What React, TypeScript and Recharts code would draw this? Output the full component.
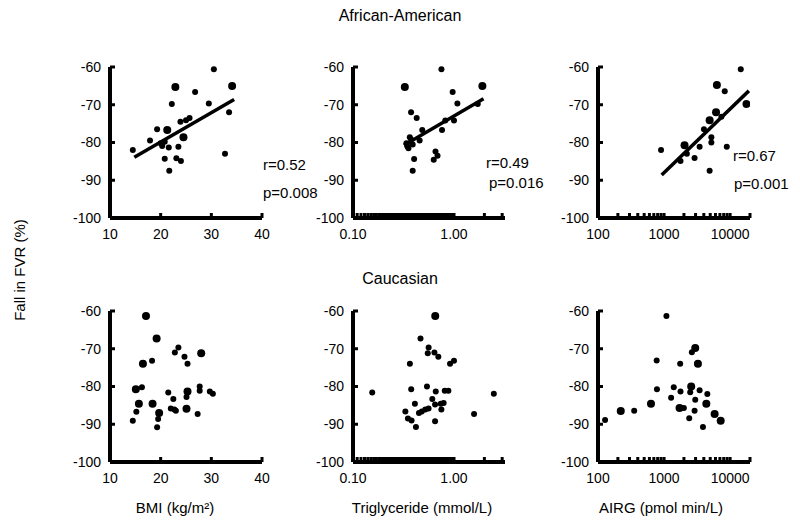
import { ScatterChart, Scatter, XAxis, YAxis, ReferenceLine } from "recharts";

type Pt = { x: number; y: number; big?: number };

const yTicks = [-100, -90, -80, -70, -60];
const bmiTicks = [10, 20, 30, 40];
const airgTicks = [100, 200, 300, 400, 500, 600, 700, 800, 900, 1000, 2000, 3000, 4000, 5000, 6000, 7000, 8000, 9000, 10000, 20000];
const airgLabels = [100, 1000, 10000];
// triglyceride axis: minor ticks every 0.01 between 0.10 and 1.00, then 2 and 3
const tgTicks = [...Array.from({ length: 91 }, (_, i) => Math.round((0.1 + i * 0.01) * 100) / 100), 2, 3];
const tgLabels: Record<number, string> = { 0.1: "0.10", 1: "1.00" };

// African-American
const aaBmi: Pt[] = [
  { x: 14.5, y: -82 }, { x: 17.9, y: -79.5 }, { x: 19.3, y: -76.5 }, { x: 20, y: -80.2 },
  { x: 20.3, y: -80.9 }, { x: 20.8, y: -79.8 }, { x: 21.3, y: -76.7, big: 1 }, { x: 21.6, y: -81.3 },
  { x: 20.8, y: -84.3 }, { x: 21.7, y: -87.5 }, { x: 22.2, y: -69.8 }, { x: 22.9, y: -65.3, big: 1 },
  { x: 23.1, y: -84.2 }, { x: 23.5, y: -81.1 }, { x: 24, y: -84.9 }, { x: 23.9, y: -74.5 },
  { x: 24.5, y: -78.6, big: 1 }, { x: 25, y: -74.1 }, { x: 25.7, y: -73.5 }, { x: 26.8, y: -66.6 },
  { x: 29.5, y: -69.7 }, { x: 30.5, y: -60.6 }, { x: 32.7, y: -83 }, { x: 33.5, y: -72 },
  { x: 34.1, y: -65, big: 1 },
];
const aaBmiFit: Pt[] = [{ x: 14.8, y: -83.9 }, { x: 34.5, y: -68.6 }];

const aaTg: Pt[] = [
  { x: 0.326, y: -65.3, big: 1 }, { x: 0.376, y: -72 }, { x: 0.427, y: -73.5 }, { x: 0.338, y: -80.2 },
  { x: 0.354, y: -81.5 }, { x: 0.365, y: -78.6 }, { x: 0.376, y: -79.2 }, { x: 0.345, y: -81 },
  { x: 0.39, y: -80.5 }, { x: 0.403, y: -84.4 }, { x: 0.39, y: -87.5 }, { x: 0.457, y: -79.5 },
  { x: 0.485, y: -76.7 }, { x: 0.656, y: -82.4 }, { x: 0.63, y: -84.6 }, { x: 0.687, y: -83.5 },
  { x: 0.751, y: -60.6 }, { x: 0.761, y: -76.7 }, { x: 0.82, y: -74.2 }, { x: 0.97, y: -66.6 },
  { x: 1.0, y: -74.2 }, { x: 1.08, y: -69.7 }, { x: 1.72, y: -69.8 }, { x: 1.91, y: -65, big: 1 },
];
const aaTgFit: Pt[] = [{ x: 0.32, y: -80.7 }, { x: 1.96, y: -68.4 }];

const aaAirg: Pt[] = [
  { x: 900, y: -82 }, { x: 1774, y: -84.9 }, { x: 2042, y: -80.7, big: 1 }, { x: 2213, y: -83 },
  { x: 2896, y: -84.1 }, { x: 3452, y: -81.1 }, { x: 4016, y: -76.5 }, { x: 4896, y: -74.1, big: 1 },
  { x: 5200, y: -78.6 }, { x: 5200, y: -80 }, { x: 4896, y: -87.5 }, { x: 6124, y: -72, big: 1 },
  { x: 6310, y: -64.8, big: 1 }, { x: 7380, y: -73.2 }, { x: 8290, y: -66.4 }, { x: 8900, y: -81.1 },
  { x: 14500, y: -60.6 }, { x: 17700, y: -69.8, big: 1 },
];
const aaAirgFit: Pt[] = [{ x: 920, y: -88.6 }, { x: 19230, y: -66.3 }];

// Caucasian
const caBmi: Pt[] = [
  { x: 17.1, y: -61.3, big: 1 }, { x: 19.2, y: -67.3, big: 1 }, { x: 16.5, y: -74, big: 1 }, { x: 18.3, y: -73.2 },
  { x: 23.5, y: -69.7 }, { x: 22.8, y: -71 }, { x: 24.7, y: -72.1 }, { x: 25.3, y: -74 },
  { x: 28, y: -71.2, big: 1 }, { x: 15.1, y: -80.7, big: 1 }, { x: 16.3, y: -80.2 }, { x: 15.7, y: -84.6, big: 1 },
  { x: 15.2, y: -86.7 }, { x: 14.5, y: -89.1 }, { x: 18.4, y: -84.6, big: 1 }, { x: 19.7, y: -87, big: 1 },
  { x: 19.5, y: -88.6 }, { x: 19.3, y: -90.8 }, { x: 21.5, y: -81.6 }, { x: 22.5, y: -83.3 },
  { x: 22, y: -85.8 }, { x: 22.7, y: -86.1 }, { x: 23, y: -86.4 }, { x: 25.1, y: -82.8 },
  { x: 25.3, y: -81.3, big: 1 }, { x: 25.1, y: -85.9, big: 1 }, { x: 27.3, y: -87.3 }, { x: 27.7, y: -80 },
  { x: 27.7, y: -81.1 }, { x: 29.7, y: -81.3 }, { x: 30.3, y: -81.9 },
];

const caTg: Pt[] = [
  { x: 0.155, y: -81.6 }, { x: 0.652, y: -61.3, big: 1 }, { x: 0.466, y: -67.3 }, { x: 0.561, y: -69.7 },
  { x: 0.55, y: -71.2 }, { x: 0.64, y: -71 }, { x: 0.7, y: -72.1 }, { x: 0.366, y: -74 },
  { x: 0.914, y: -74 }, { x: 1.0, y: -73.2 }, { x: 0.377, y: -80.7 }, { x: 0.54, y: -80 },
  { x: 0.66, y: -81.3 }, { x: 0.81, y: -81.1 }, { x: 0.88, y: -81.1 }, { x: 0.33, y: -86.6 },
  { x: 0.35, y: -88.5 }, { x: 0.38, y: -89 }, { x: 0.41, y: -84.6 }, { x: 0.42, y: -90.7 },
  { x: 0.45, y: -87 }, { x: 0.48, y: -86.6 }, { x: 0.52, y: -86.1 }, { x: 0.56, y: -85.8 },
  { x: 0.61, y: -83.3 }, { x: 0.65, y: -89.2 }, { x: 0.65, y: -84.8 }, { x: 0.74, y: -84.6 },
  { x: 0.75, y: -86.1 }, { x: 0.79, y: -84.4 }, { x: 1.58, y: -87.3 }, { x: 2.48, y: -81.9 },
];

const caAirg: Pt[] = [
  { x: 128, y: -88.9 }, { x: 221, y: -86.5, big: 1 }, { x: 353, y: -86.4 }, { x: 634, y: -84.6, big: 1 },
  { x: 773, y: -73.1 }, { x: 781, y: -80.7 }, { x: 1086, y: -61.3 }, { x: 1279, y: -83 },
  { x: 1403, y: -80.2 }, { x: 1753, y: -74 }, { x: 1774, y: -81.3 }, { x: 1716, y: -85.7, big: 1 },
  { x: 1995, y: -85.7 }, { x: 2404, y: -88.4 }, { x: 2489, y: -81.5 }, { x: 2576, y: -80, big: 1 },
  { x: 2636, y: -70.9 }, { x: 2965, y: -69.8, big: 1 }, { x: 3256, y: -74, big: 1 }, { x: 2965, y: -83.5 },
  { x: 2897, y: -86.4 }, { x: 3452, y: -81 }, { x: 3880, y: -90.7 }, { x: 4365, y: -84.6, big: 1 },
  { x: 4520, y: -82 }, { x: 5830, y: -87.3, big: 1 }, { x: 7200, y: -89.1, big: 1 },
];

const font = "'Liberation Sans', Arial, sans-serif";
const tickStyle = { fontSize: 14, fill: "#000", fontFamily: font, stroke: "none" };

const Dot = (p: any) => <circle cx={p.cx} cy={p.cy} r={p.payload.big ? 4 : 3} fill="#000" />;
const NoDot = () => <g />;

type PanelProps = {
  left: number;
  top: number;
  data: Pt[];
  fit?: Pt[];
  kind: "bmi" | "tg" | "airg";
};

function Panel({ left, top, data, fit, kind }: PanelProps) {
  let xProps: any;
  let xMin: number;
  if (kind === "bmi") {
    xMin = 10;
    xProps = { scale: "linear", domain: [10, 40], ticks: bmiTicks };
  } else if (kind === "tg") {
    xMin = 0.1;
    xProps = {
      scale: "log",
      domain: [0.1, 3.2],
      ticks: tgTicks,
      tickFormatter: (v: number) => tgLabels[v] ?? "",
    };
  } else {
    xMin = 100;
    xProps = {
      scale: "log",
      domain: [100, 20000],
      ticks: airgTicks,
      tickFormatter: (v: number) => (airgLabels.includes(v) ? String(v) : ""),
    };
  }
  return (
    <div style={{ position: "absolute", left: left - 50, top: top - 10 }}>
      <ScatterChart width={212} height={191} margin={{ top: 10, right: 10, bottom: 0, left: 0 }}>
        <XAxis
          type="number"
          dataKey="x"
          {...xProps}
          allowDataOverflow
          interval={0}
          height={30}
          axisLine={false}
          tickLine={{ stroke: "#000", strokeWidth: 3 }}
          tickSize={-5}
          tickMargin={16}
          tick={tickStyle}
        />
        <YAxis
          type="number"
          dataKey="y"
          domain={[-100, -60]}
          ticks={yTicks}
          interval={0}
          width={50}
          axisLine={false}
          tickLine={{ stroke: "#000", strokeWidth: 3 }}
          tickSize={-5}
          tickMargin={14}
          tick={tickStyle}
        />
        <ReferenceLine x={xMin} stroke="#000" strokeWidth={4} ifOverflow="visible" />
        <ReferenceLine y={-100} stroke="#000" strokeWidth={4} ifOverflow="visible" />
        <Scatter data={data} shape={Dot} isAnimationActive={false} />
        {fit && (
          <Scatter
            data={fit}
            line={{ stroke: "#000", strokeWidth: 3.5 }}
            shape={NoDot}
            isAnimationActive={false}
          />
        )}
      </ScatterChart>
    </div>
  );
}

const labelStyle = { fontFamily: font, fill: "#000" };

export default function App() {
  return (
    <div style={{ position: "absolute", left: 0, top: 0, width: 800, height: 526, background: "#fff" }}>
      <Panel left={110} top={67} data={aaBmi} fit={aaBmiFit} kind="bmi" />
      <Panel left={353} top={67} data={aaTg} fit={aaTgFit} kind="tg" />
      <Panel left={598} top={67} data={aaAirg} fit={aaAirgFit} kind="airg" />
      <Panel left={110} top={311} data={caBmi} kind="bmi" />
      <Panel left={353} top={311} data={caTg} kind="tg" />
      <Panel left={598} top={311} data={caAirg} kind="airg" />
      <svg
        width={800}
        height={526}
        style={{ position: "absolute", left: 0, top: 0, pointerEvents: "none" }}
      >
        <text x={400} y={21} textAnchor="middle" fontSize={16} {...labelStyle}>African-American</text>
        <text x={400} y={284} textAnchor="middle" fontSize={16} {...labelStyle}>Caucasian</text>
        <text
          transform="translate(20,270) rotate(-90)"
          textAnchor="middle"
          dy="0.35em"
          fontSize={15}
          {...labelStyle}
        >
          Fall in FVR (%)
        </text>
        <text x={175} y={513} textAnchor="middle" fontSize={15} {...labelStyle}>BMI (kg/m²)</text>
        <text x={422} y={513} textAnchor="middle" fontSize={15} {...labelStyle}>Triglyceride (mmol/L)</text>
        <text x={661} y={513} textAnchor="middle" fontSize={15} {...labelStyle}>AIRG (pmol min/L)</text>

        <text x={263} y={170} fontSize={15} {...labelStyle}>r=0.52</text>
        <text x={263} y={198} fontSize={15} {...labelStyle}>p=0.008</text>
        <text x={486} y={168} fontSize={15} {...labelStyle}>r=0.49</text>
        <text x={489} y={188} fontSize={15} {...labelStyle}>p=0.016</text>
        <text x={733} y={161} fontSize={15} {...labelStyle}>r=0.67</text>
        <text x={734} y={189} fontSize={15} {...labelStyle}>p=0.001</text>
      </svg>
    </div>
  );
}
